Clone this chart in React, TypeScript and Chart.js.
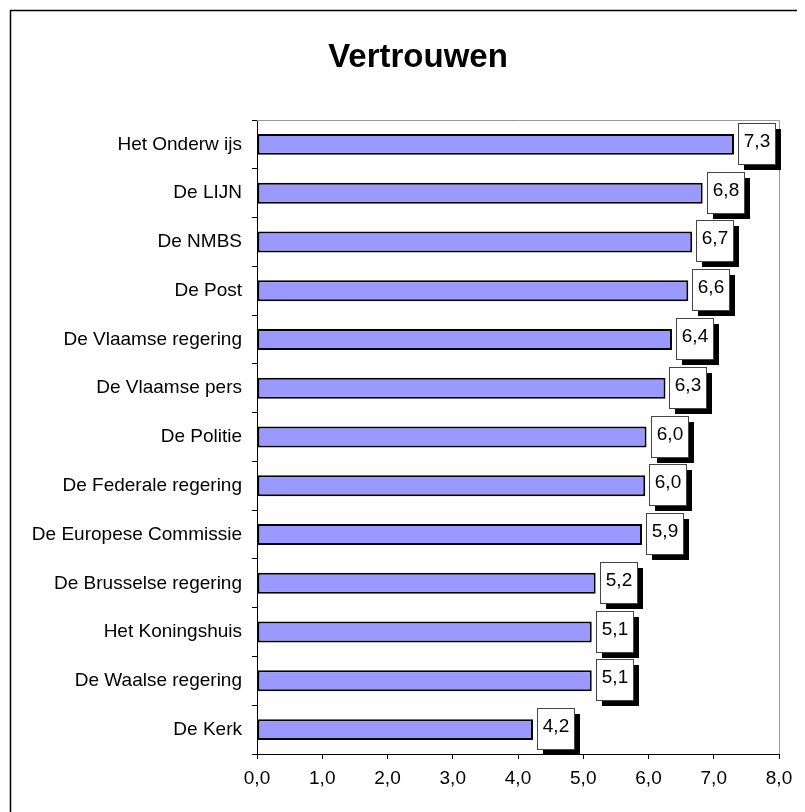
import React, { useEffect, useRef } from "react";
import { Chart, registerables } from "chart.js";

Chart.register(...registerables);

const TITLE = "Vertrouwen";
const categories = [
  "Het Onderw ijs",
  "De LIJN",
  "De NMBS",
  "De Post",
  "De Vlaamse regering",
  "De Vlaamse pers",
  "De Politie",
  "De Federale regering",
  "De Europese Commissie",
  "De Brusselse regering",
  "Het Koningshuis",
  "De Waalse regering",
  "De Kerk",
];
const values = [7.31, 6.83, 6.67, 6.61, 6.36, 6.26, 5.97, 5.95, 5.9, 5.19, 5.13, 5.13, 4.23];
const valueLabels = ["7,3", "6,8", "6,7", "6,6", "6,4", "6,3", "6,0", "6,0", "5,9", "5,2", "5,1", "5,1", "4,2"];
const xTicks = ["0,0", "1,0", "2,0", "3,0", "4,0", "5,0", "6,0", "7,0", "8,0"];

const FONT = "'Liberation Sans', Arial, sans-serif";

const decorPlugin = {
  id: "decor",
  beforeDraw(chart: any) {
    const ctx = chart.ctx;
    ctx.save();
    ctx.fillStyle = "#ffffff";
    ctx.fillRect(0, 0, chart.width, chart.height);
    ctx.strokeStyle = "#000";
    ctx.lineWidth = 1.5;
    ctx.beginPath();
    ctx.moveTo(2.5, chart.height + 5);
    ctx.lineTo(2.5, 2.5);
    ctx.lineTo(chart.width + 5, 2.5);
    ctx.stroke();
    ctx.restore();
  },
  afterDraw(chart: any) {
    const ctx = chart.ctx;
    const a = chart.chartArea;
    ctx.save();
    ctx.strokeStyle = "#999";
    ctx.lineWidth = 1;
    ctx.beginPath();
    ctx.moveTo(a.left, a.top + 0.5);
    ctx.lineTo(a.right + 0.5, a.top + 0.5);
    ctx.lineTo(a.right + 0.5, a.bottom);
    ctx.stroke();
    ctx.fillStyle = "#000";
    ctx.font = `bold 33px ${FONT}`;
    ctx.textAlign = "center";
    ctx.textBaseline = "alphabetic";
    ctx.fillText(TITLE, 410, 59);
    const meta = chart.getDatasetMeta(0);
    ctx.font = `19px ${FONT}`;
    meta.data.forEach((bar: any, i: number) => {
      const w = 37;
      const h = 41;
      const x = Math.round(bar.x + 4);
      const y = Math.round(bar.y - h / 2 - 1);
      ctx.fillStyle = "#000";
      ctx.fillRect(x + 6, y + 6, w, h);
      ctx.fillStyle = "#fff";
      ctx.fillRect(x, y, w, h);
      ctx.strokeStyle = "#444";
      ctx.lineWidth = 1;
      ctx.strokeRect(x + 0.5, y + 0.5, w, h);
      ctx.fillStyle = "#000";
      ctx.textAlign = "center";
      ctx.textBaseline = "middle";
      ctx.fillText(valueLabels[i], x + w / 2 + 0.5, y + h / 2 - 2);
    });
    ctx.restore();
  },
};

export default function App() {
  const ref = useRef<HTMLCanvasElement | null>(null);
  useEffect(() => {
    if (!ref.current) return;
    const chart = new Chart(ref.current, {
      type: "bar",
      data: {
        labels: categories,
        datasets: [
          {
            data: values,
            backgroundColor: "#9999FF",
            borderColor: "#000000",
            borderWidth: 2,
            borderSkipped: false,
            barPercentage: 0.43,
            categoryPercentage: 1,
          },
        ],
      },
      options: {
        indexAxis: "y",
        responsive: false,
        animation: false,
        layout: { padding: { top: 112, right: 26, left: 0, bottom: 0 } },
        plugins: {
          legend: { display: false },
          tooltip: { enabled: false },
          title: { display: false },
        },
        scales: {
          y: {
            type: "category",
            afterFit: (s: any) => {
              s.width = 249;
            },
            grid: {
              offset: true,
              drawOnChartArea: false,
              tickLength: 5,
              color: "#000",
            },
            border: { color: "#000", width: 1 },
            ticks: {
              color: "#000",
              padding: 10,
              font: { family: FONT, size: 19 },
            },
          },
          x: {
            type: "linear",
            min: 0,
            max: 8,
            afterFit: (s: any) => {
              s.height = 58;
            },
            grid: {
              drawOnChartArea: false,
              tickLength: 5,
              color: "#000",
            },
            border: { color: "#000", width: 1 },
            ticks: {
              stepSize: 1,
              color: "#000",
              padding: 8,
              font: { family: FONT, size: 19 },
              callback: (v: any) => xTicks[Number(v)] ?? "",
            },
          },
        },
      },
      plugins: [decorPlugin],
    });
    return () => chart.destroy();
  }, []);
  return (
    <div style={{ width: 797, height: 804 }}>
      <canvas ref={ref} width={797} height={804} style={{ display: "block" }} />
    </div>
  );
}
